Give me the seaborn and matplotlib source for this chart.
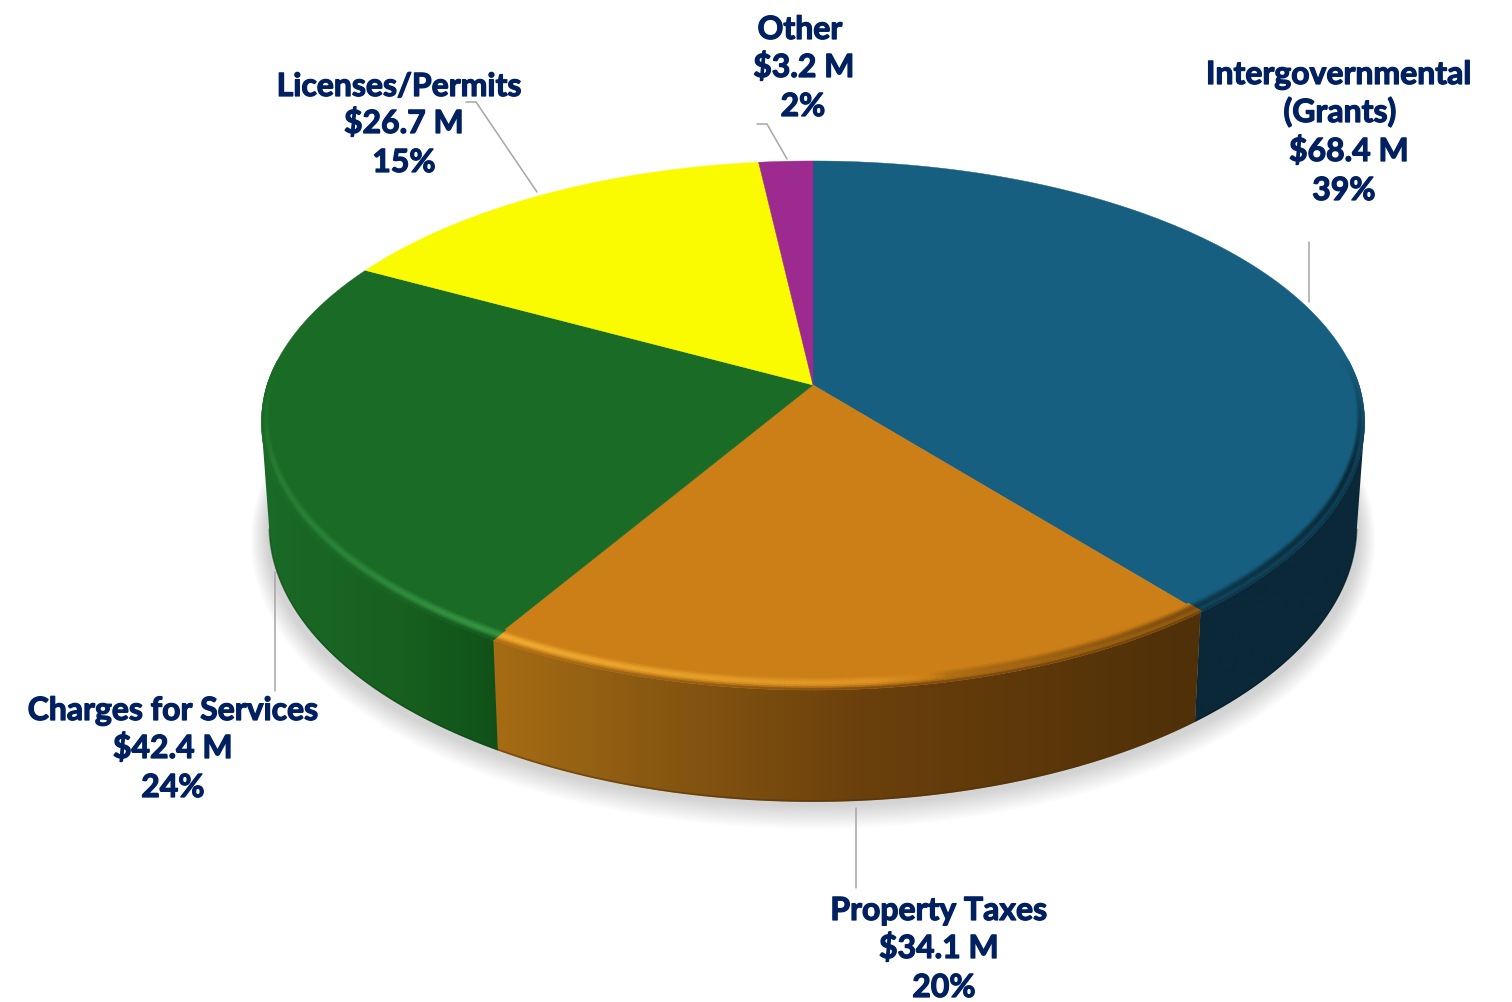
import numpy as np
import seaborn as sns
import matplotlib
matplotlib.use('Agg')
import matplotlib.pyplot as plt
import matplotlib.patheffects as pe
from matplotlib.collections import PolyCollection
from matplotlib.colors import to_rgb
from matplotlib.patches import Polygon

# data
names = ['Intergovernmental\n(Grants)', 'Property Taxes', 'Charges for Services', 'Licenses/Permits', 'Other']
values = [68.4, 34.1, 42.4, 26.7, 3.2]
hexcolors = ['#165f80', '#cd7f17', '#1a6b25', '#fbfb00', '#9c2a8f']

# side wall colour stops, x pixel -> colour
side_stops = [
    ([0, 1512], ['#0a2838', '#0a2838']),
    ([497, 640, 860, 1192], ['#a66c14', '#8b5a12', '#6b400c', '#4f3008']),
    ([261, 400, 497], ['#1b6a27', '#17601f', '#115119']),
    ([0, 1512], ['#b5b500', '#b5b500']),
    ([0, 1512], ['#701f66', '#701f66']),
]

# centre x, baseline y for every text line, same order as names
label_pos = [
    [(1339, 84), (1340, 122), (1349, 161), (1344, 200)],
    [(939, 920), (939, 958), (944, 997)],
    [(173, 720), (173, 758), (173, 797)],
    [(399, 96), (404, 133), (404, 172)],
    [(800, 39), (804, 77), (803, 116)],
]
leaders = [
    [(1309, 242), (1309, 302)],
    [(856, 808), (856, 888)],
    [(275, 572), (275, 691)],
    [(466, 102), (476, 102), (537, 192)],
    [(757, 124), (767, 124), (787, 159)],
]

sns.set_theme(style='white')
plt.rcParams['font.family'] = ['Lato', 'DejaVu Sans']
palette = sns.color_palette(hexcolors)

fig, ax = plt.subplots(figsize=(15.12, 10.02), dpi=100)
fig.subplots_adjust(0, 0, 1, 1)
wedges, _ = ax.pie(values, colors=palette, startangle=90, counterclock=False)
angles = [(w.theta1, w.theta2) for w in wedges]
for w in wedges:
    w.remove()
ax.set_aspect('auto')
ax.axis('off')

CX, CY = 813, 385
A, B, K = 546.0, 258.3, 0.153


def top_xy(u, v):
    # unit disc to the tilted top face (perspective)
    w = 1 + K * v
    squeeze = 1 - 0.012 * np.clip(-v, 0, 1)
    return CX + A * u / w * squeeze, CY - B * v / w


def bottom_xy(u, v):
    x, y = top_xy(u, v)
    return CX + (x - CX) * 0.986, 529 + (y - 425) * 1.03


def side_color(i, x):
    xs, cols = side_stops[i]
    rgb = np.array([to_rgb(c) for c in cols])
    return np.array([np.interp(x, xs, rgb[:, k]) for k in range(3)]).T


# soft shadow under the pie
t = np.radians(np.linspace(0, 360, 361))
for i in range(22, 0, -1):
    sx = CX + (546 + i * 0.75) * np.cos(t)
    sy = 533 + i * 0.35 + (272 + i * 0.75) * np.sin(t)
    ax.fill(sx, sy, color='black', alpha=0.0065, lw=0, zorder=1)

# side walls, horizontal gradient clipped to the wall shape
for i, (t1, t2) in enumerate(angles):
    th = np.radians(np.arange(t1, t2 + 0.25, 0.25))
    # only the part in front of the left and right extremes
    th = th[np.sin(th) < -0.15]
    if len(th) < 2:
        continue
    u, v = np.cos(th), np.sin(th)
    xt, yt = top_xy(u, v)
    xb, yb = bottom_xy(u, v)
    xs = np.linspace(min(xt.min(), xb.min()), max(xt.max(), xb.max()), 400)
    grad = side_color(i, xs)[np.newaxis, :, :]
    im = ax.imshow(grad, extent=(xs[0], xs[-1], 830, 200), aspect='auto', zorder=2, interpolation='bilinear')
    wall = Polygon(np.c_[np.r_[xt, xb[::-1]], np.r_[yt, yb[::-1]]], closed=True, transform=ax.transData)
    im.set_clip_path(wall)
    # darker bottom edge
    ax.plot(xb, yb - 1, color=side_color(i, xb).mean(axis=0) * 0.7, lw=1.2, alpha=0.5,
            zorder=2.5, solid_capstyle='butt')

# top faces
for i, (t1, t2) in enumerate(angles):
    th = np.radians(np.linspace(t1, t2, 200))
    u = np.r_[0, np.cos(th)]
    v = np.r_[0, np.sin(th)]
    x, y = top_xy(u, v)
    ax.fill(x, y, color=palette[i], lw=0.3, ec=palette[i], zorder=3)

# bevel round the front rim, light on the left, dark on the right
levels = np.linspace(0, 1, 9)
for i, (t1, t2) in enumerate(angles):
    th = np.radians(np.arange(t1, t2 + 0.5, 0.5))
    th = th[np.sin(th) < 0.1]
    if len(th) < 2:
        continue
    base = np.array(palette[i])
    band = 0.012 + 0.026 * np.abs(np.sin(th))
    polys, cols = [], []
    for k in range(len(levels) - 1):
        r1 = 1 - band * (1 - levels[k])
        r2 = 1 - band * (1 - levels[k + 1])
        f = (k + 0.5) / (len(levels) - 1)
        xa, ya = top_xy(r1 * np.cos(th), r1 * np.sin(th))
        xc, yc = top_xy(r2 * np.cos(th), r2 * np.sin(th))
        px = np.interp(xa, [261, 480, 870, 950, 1366], [0.3, 0.75, 0.35, -0.15, -0.6])
        fade = np.clip((0.1 - np.sin(th)) / 0.4, 0, 1)
        prof = np.sin(np.pi * f) ** 2
        side = side_color(i, xa)
        mix = np.clip((f - 0.55) / 0.45, 0, 1) ** 2
        for j in range(len(th) - 1):
            g = px[j] * fade[j] * prof
            c = base + (np.clip(base * 1.25 + 0.12, 0, 1) - base) * g if g > 0 else base * (1 + g)
            m = mix * fade[j]
            c = c * (1 - m) + side[j] * m
            polys.append([(xa[j], ya[j]), (xa[j + 1], ya[j + 1]), (xc[j + 1], yc[j + 1]), (xc[j], yc[j])])
            cols.append(np.clip(c, 0, 1))
    ax.add_collection(PolyCollection(polys, facecolors=cols, edgecolors=cols, linewidths=0.4, zorder=4))

# leader lines
for pts in leaders:
    ax.plot([p[0] for p in pts], [p[1] for p in pts], color='#a6a6a6', lw=1.1, zorder=5)

# labels
total = sum(values)
for name, val, pos in zip(names, values, label_pos):
    lines = name.split('\n') + ['$%.1f M' % val, '%d%%' % round(val / total * 100)]
    for txt, (x, y) in zip(lines, pos):
        ax.text(x, y, txt.replace('$', r'\$'), ha='center', va='baseline', fontsize=23,
                fontweight='bold', color='#002060', zorder=6,
                path_effects=[pe.withStroke(linewidth=0.9, foreground='#002060')])

ax.set_xlim(0, 1512)
ax.set_ylim(1002, 0)
fig.savefig('out.png', dpi=100, facecolor='white')
